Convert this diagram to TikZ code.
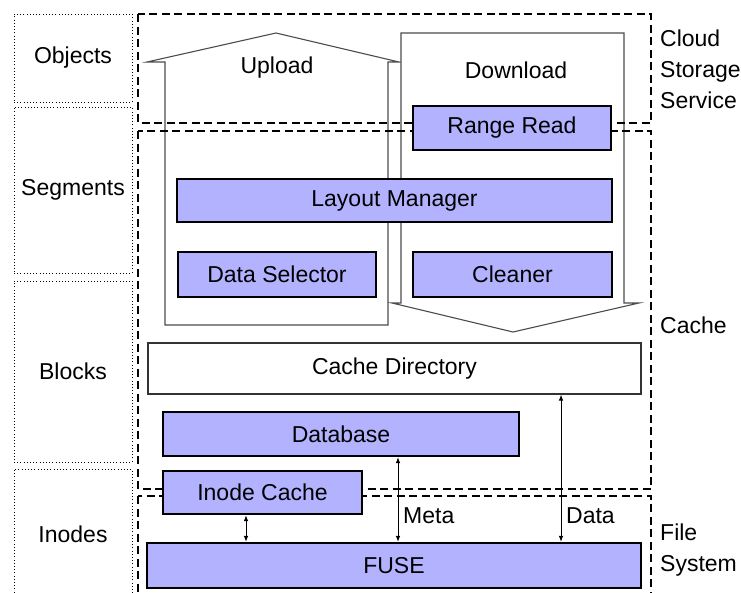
\documentclass[tikz,border=0pt]{standalone}
\usepackage{fontspec}
\setmainfont{Liberation Sans}
\usepackage{tikz}
\usepackage{xcolor}
\usetikzlibrary{arrows.meta,backgrounds,shapes}
\definecolor{layerblue}{RGB}{178,178,255}
\tikzstyle{levelbox}	=[rectangle,draw=black,line width=0.9pt,dash pattern=on 1pt off 2.2pt,inner sep=0pt]
\tikzstyle{tierline}	=[draw=black,line width=2.6pt,dash pattern=on 8pt off 4.5pt]
\tikzstyle{flowshape}	=[draw=black!70,fill=white,line width=1.1pt,line join=miter]
\tikzstyle{layer}		=[rectangle,draw=black,fill=layerblue,line width=2.2pt,inner sep=0pt]
\tikzstyle{dirbox}		=[rectangle,draw=black!80,fill=white,line width=1.1pt,inner sep=0pt]
\tikzstyle{sidelabel}	=[anchor=west,align=left,inner sep=0pt]
\tikzstyle{edgeio} 	= [draw,line width=0.9pt,{Latex[length=6pt,width=4.5pt]}-{Latex[length=6pt,width=4.5pt]}]

\begin{document}
\begin{tikzpicture}[x=1pt,y=-1pt,font=\fontsize{23}{31}\selectfont]
		\clip (0,0) rectangle (741,592);
		
		%%%%% Levels on the left
		\foreach \pos/\name/\h/\txt in {{(73,58)/objects/88/Objects}, {(73,190)/segments/166/Segments}, {(73,371.5)/blocks/181/Blocks}, {(73,534.5)/inodes/131/Inodes}}
		\node[levelbox,minimum width=118pt,minimum height=\h pt] (\name) at \pos {\txt};
		
		%%%% Upload / Download arrows
		\path[flowshape] (165,325) -- (165,62) -- (147,62) -- (276,33) -- (399,62) -- (388,62) -- (388,325) -- cycle;
		\path[flowshape] (401,33) -- (624,33) -- (624,303) -- (639,303) -- (513,332) -- (392,303) -- (401,303) -- cycle;
		\node (upload) at (277,68) {Upload};
		\node (download) at (516,70) {Download};
		
		%%%% Tiers
		\draw[tierline] (138,14) rectangle (651,123);
		\draw[tierline] (138,131) rectangle (651,489);
		\draw[tierline] (138,496) rectangle (651,610);
		
		\node[sidelabel] (cloud) at (660,69) {Cloud\\Storage\\Service};
		\node[sidelabel] (cache) at (660,325) {Cache};
		\node[sidelabel] (filesys) at (660,550) {File\\System};
		
		%%%% Components
		\foreach \pos/\name/\w/\h/\txt in {{(512,128)/rangeread/198/44/Range Read}, {(394.5,200.5)/layoutmgr/435/43/Layout Manager}, {(277,274.5)/dataselector/198/45/Data Selector}, {(512.5,274.5)/cleaner/199/45/Cleaner}, {(341,434)/database/356/44/Database}, {(262.5,492.5)/inodecache/199/43/Inode Cache}, {(394,565.5)/fuse/494/45/FUSE}}
		\node[layer,minimum width=\w pt,minimum height=\h pt] (\name) at \pos {\txt};
		
		\node[dirbox,minimum width=493pt,minimum height=51pt] (cachedir) at (394.5,368.5) {Cache Directory};
		
		%%% Calls from FUSE
		\coordinate (icx) at (246,0);
		\coordinate (metax) at (398,0);
		\coordinate (datax) at (561,0);
		\path[edgeio] (inodecache.south -| icx) -- (fuse.north -| icx);
		\path[edgeio] (database.south -| metax) -- (fuse.north -| metax);
		\path[edgeio] (cachedir.south -| datax) -- (fuse.north -| datax);
		\node[anchor=west,inner sep=0pt] (meta) at (403,516) {Meta};
		\node[anchor=west,inner sep=0pt] (data) at (566,516) {Data};
\end{tikzpicture}
\end{document}
